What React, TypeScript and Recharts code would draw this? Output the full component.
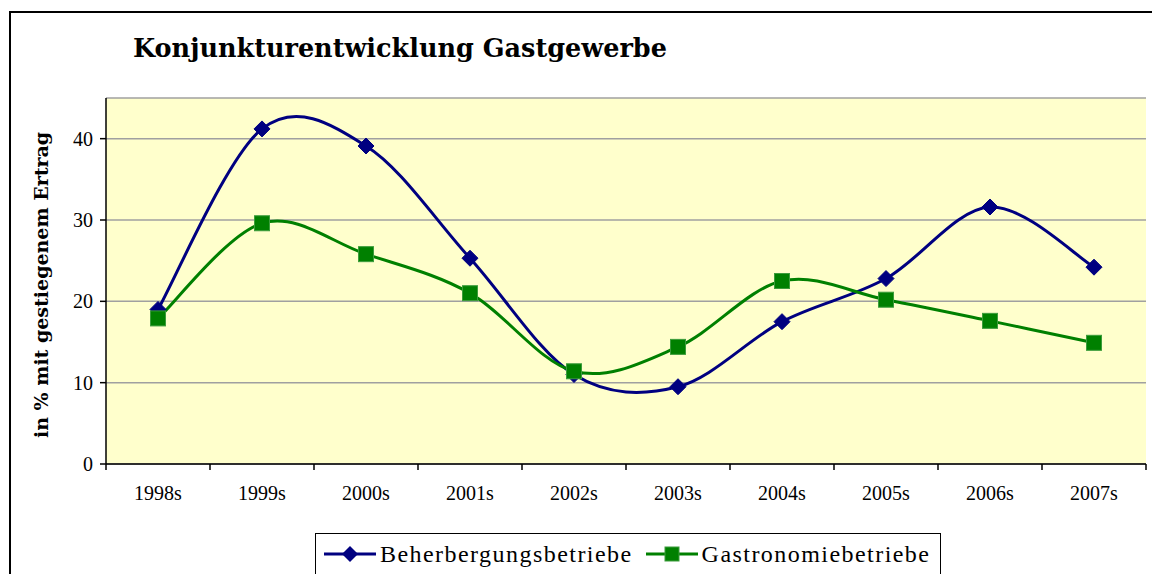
import React from 'react';
import { LineChart, Line, XAxis, YAxis, CartesianGrid, Legend, Label } from 'recharts';

const years = ['1998s', '1999s', '2000s', '2001s', '2002s', '2003s', '2004s', '2005s', '2006s', '2007s'];
const beherbergung = [19.0, 41.2, 39.1, 25.3, 11.0, 9.5, 17.5, 22.8, 31.6, 24.2];
const gastronomie = [17.9, 29.6, 25.8, 21.0, 11.4, 14.4, 22.5, 20.2, 17.6, 14.9];
const yTicks = [0, 10, 20, 30, 40];
const seriesNames = ['Beherbergungsbetriebe', 'Gastronomiebetriebe'];

const data = years.map((y, i) => ({ year: y, b: beherbergung[i], g: gastronomie[i] }));

const NAVY = '#000080';
const GREEN = '#008000';
const GREEN_EDGE = '#3c9c3c';

// Excel-like smoothed line (Catmull-Rom style Bezier)
function excelCurve(context: any) {
  let pts: number[][] = [];
  return {
    areaStart() {},
    areaEnd() {},
    lineStart() {
      pts = [];
    },
    lineEnd() {
      const n = pts.length;
      if (!n) return;
      context.moveTo(pts[0][0], pts[0][1]);
      for (let i = 0; i < n - 1; i++) {
        const p0 = pts[Math.max(i - 1, 0)];
        const p1 = pts[i];
        const p2 = pts[i + 1];
        const p3 = pts[Math.min(i + 2, n - 1)];
        const c1x = p1[0] + (p2[0] - p0[0]) / 6;
        const c1y = p1[1] + (p2[1] - p0[1]) / 6;
        const c2x = p2[0] - (p3[0] - p1[0]) / 6;
        const c2y = p2[1] - (p3[1] - p1[1]) / 6;
        context.bezierCurveTo(c1x, c1y, c2x, c2y, p2[0], p2[1]);
      }
    },
    point(x: number, y: number) {
      pts.push([+x, +y]);
    },
  };
}

const DiamondDot = (p: any) => {
  const { cx, cy, index } = p;
  if (cx == null || cy == null) return <g key={`bd${index}`} />;
  const r = 8;
  return (
    <path
      key={`bd${index}`}
      d={`M${cx},${cy - r}L${cx + r},${cy}L${cx},${cy + r}L${cx - r},${cy}Z`}
      fill={NAVY}
      stroke={NAVY}
      strokeWidth={1}
    />
  );
};

const SquareDot = (p: any) => {
  const { cx, cy, index } = p;
  if (cx == null || cy == null) return <g key={`gd${index}`} />;
  const h = 7.5;
  return (
    <rect
      key={`gd${index}`}
      x={cx - h}
      y={cy - h}
      width={2 * h}
      height={2 * h}
      fill={GREEN}
      stroke={GREEN_EDGE}
      strokeWidth={1}
    />
  );
};

const XTick = (p: any) => {
  const { x, y, payload, index } = p;
  const half = payload && payload.offset != null ? payload.offset : 52;
  return (
    <g>
      <line x1={x - half} y1={y} x2={x - half} y2={y + 6} stroke="#000" strokeWidth={1.5} />
      {index === years.length - 1 && (
        <line x1={x + half} y1={y} x2={x + half} y2={y + 6} stroke="#000" strokeWidth={1.5} />
      )}
      <text
        x={x}
        y={y + 36}
        textAnchor="middle"
        fontFamily="'Liberation Serif', serif"
        fontSize={20}
        fill="#000"
      >
        {payload.value}
      </text>
    </g>
  );
};

const LegendIcon = ({ kind }: { kind: string }) => (
  <svg width={54} height={20} style={{ display: 'block' }}>
    <line x1={1} y1={10} x2={53} y2={10} stroke={kind === 'b' ? NAVY : GREEN} strokeWidth={3} />
    {kind === 'b' ? (
      <path d="M27,2L35,10L27,18L19,10Z" fill={NAVY} />
    ) : (
      <rect x={20} y={3} width={14} height={14} fill={GREEN} stroke={GREEN_EDGE} strokeWidth={1} />
    )}
  </svg>
);

const renderLegend = (props: any) => {
  const payload = props.payload || [];
  return (
    <div
      style={{
        border: '1px solid #000',
        background: '#fff',
        height: 60,
        boxSizing: 'border-box',
        display: 'flex',
        alignItems: 'flex-start',
        paddingTop: 8,
        paddingLeft: 7,
      }}
    >
      {payload.map((e: any, i: number) => (
        <div key={i} style={{ display: 'flex', alignItems: 'center', marginRight: 12 }}>
          <LegendIcon kind={e.dataKey} />
          <span
            style={{
              fontFamily: "'Liberation Serif', serif",
              fontSize: 24,
              letterSpacing: 1.45,
              color: '#000',
              marginLeft: 3,
              lineHeight: '24px',
            }}
          >
            {e.value}
          </span>
        </div>
      ))}
    </div>
  );
};

const YLabel = () => (
  <text
    x={48}
    y={285}
    transform="rotate(-90 48 285)"
    textAnchor="middle"
    fontFamily="'DejaVu Serif', serif"
    fontWeight="bold"
    fontSize={19}
    fill="#000"
  >
    in % mit gestiegenem Ertrag
  </text>
);

export default function App() {
  return (
    <div
      style={{
        position: 'absolute',
        left: 0,
        top: 0,
        width: 1152,
        height: 574,
        overflow: 'hidden',
        background: '#fff',
      }}
    >
      <div
        style={{
          position: 'absolute',
          left: 9,
          top: 11,
          width: 1200,
          height: 600,
          border: '2px solid #000',
        }}
      />
      <div
        style={{
          position: 'absolute',
          left: 133,
          top: 33,
          fontFamily: "'DejaVu Serif', serif",
          fontWeight: 'bold',
          fontSize: 25.5,
          lineHeight: '30px',
          color: '#000',
          whiteSpace: 'nowrap',
        }}
      >
        Konjunkturentwicklung Gastgewerbe
      </div>
      <div style={{ position: 'absolute', left: 0, top: 0 }}>
        <LineChart
          width={1152}
          height={574}
          data={data}
          margin={{ top: 98, right: 6, bottom: 0, left: 0 }}
        >
          <CartesianGrid
            vertical={false}
            fill="#FFFFCC"
            stroke="#a0a0a0"
            strokeWidth={1.5}
          />
          <XAxis
            dataKey="year"
            scale="band"
            height={110}
            tickSize={0}
            tickMargin={0}
            tickLine={false}
            axisLine={{ stroke: '#000', strokeWidth: 1.5 }}
            tick={<XTick />}
            interval={0}
          />
          <XAxis
            xAxisId="top"
            dataKey="year"
            orientation="top"
            scale="band"
            height={0}
            tick={false}
            tickLine={false}
            axisLine={{ stroke: '#a0a0a0', strokeWidth: 2 }}
          />
          <YAxis
            domain={[0, 45]}
            ticks={yTicks}
            width={106}
            tickSize={6}
            tickMargin={7}
            tickLine={{ stroke: '#000', strokeWidth: 1.5 }}
            axisLine={{ stroke: '#000', strokeWidth: 1.5 }}
            tick={{ fontFamily: "'Liberation Serif', serif", fontSize: 20, fill: '#000' }}
            allowDataOverflow
          >
            <Label content={<YLabel />} />
          </YAxis>
          <YAxis
            yAxisId="right"
            orientation="right"
            domain={[0, 45]}
            width={0}
            tick={false}
            tickLine={false}
            axisLine={{ stroke: '#a0a0a0', strokeWidth: 2 }}
          />
          <Legend
            verticalAlign="middle"
            layout="horizontal"
            content={renderLegend}
            wrapperStyle={{ left: 315, top: 533, width: 626, height: 60 }}
          />
          <Line
            dataKey="b"
            name={seriesNames[0]}
            type={excelCurve as any}
            stroke={NAVY}
            strokeWidth={3}
            dot={DiamondDot}
            activeDot={false}
            isAnimationActive={false}
          />
          <Line
            dataKey="g"
            name={seriesNames[1]}
            type={excelCurve as any}
            stroke={GREEN}
            strokeWidth={3}
            dot={SquareDot}
            activeDot={false}
            isAnimationActive={false}
          />
        </LineChart>
      </div>
    </div>
  );
}
